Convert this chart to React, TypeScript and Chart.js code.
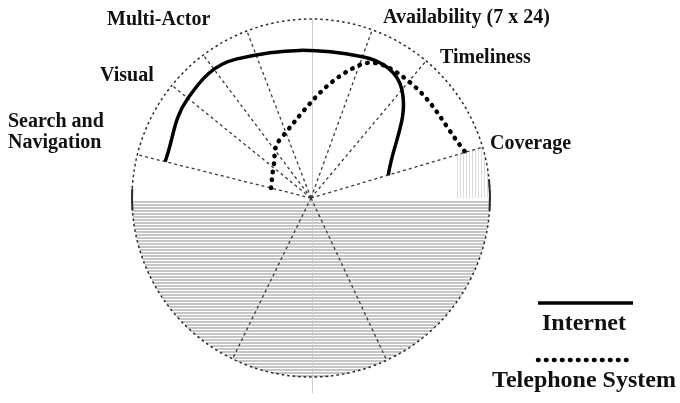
import { useEffect, useRef } from 'react';
import { Chart, registerables } from 'chart.js';

Chart.register(...registerables);

// ---- data ----
const AXIS_LABELS = ['Search and\nNavigation', 'Visual', 'Multi-Actor', 'Availability (7 x 24)', 'Timeliness', 'Coverage'];
// angular placement of each criterion (degrees, counter-clockwise from east)
const AXIS_ANGLES = [166, 141, 118, 70, 50, 16.5];
const INTERNET = [0.84, 0.885, 0.88, 0.84, 0.79, 0.45];
const TELEPHONE = [0.23, 0.27, 0.37, 0.79, 0.85, 0.9];
const SERIES_NAMES = ['Internet', 'Telephone System'];

// ---- decoration / layout (not data) ----
const GRID_ANGLES_UPPER = [166, 141, 127, 111, 70, 50, 16.5];
const GRID_ANGLES_LOWER = [244, 295];
const W = 680;
const H = 403;
const CX = 311;
const CY = 198;
const R = 179;
// text anchor offsets relative to the centre, in px (left-aligned, alphabetic baseline)
const LABEL_OFFSETS: [number, number][] = [
  [-303, -71],
  [-211, -117],
  [-204, -173],
  [72, -175],
  [129, -135],
  [179, -49],
];

const toXY = (angleDeg: number, v: number) => {
  const a = (angleDeg * Math.PI) / 180;
  return { x: v * Math.cos(a), y: v * Math.sin(a) };
};

const FONT = '"Liberation Serif", "Times New Roman", serif';

const decorPlugin = {
  id: 'decor',
  beforeDatasetsDraw(chart: any) {
    const { ctx, scales } = chart;
    const xs = scales.x;
    const ys = scales.y;
    const cx = xs.getPixelForValue(0);
    const cy = ys.getPixelForValue(0);
    const r = xs.getPixelForValue(1) - cx;
    ctx.save();
    // faint vertical hatch in coverage sector
    ctx.save();
    ctx.beginPath();
    ctx.moveTo(cx, cy + 3);
    ctx.arc(cx, cy, r, 0, (-16.5 * Math.PI) / 180, true);
    ctx.closePath();
    ctx.clip();
    ctx.strokeStyle = '#dcdcdc';
    ctx.lineWidth = 1;
    for (let x = cx + 146; x < cx + r; x += 3) {
      ctx.beginPath();
      ctx.moveTo(x + 0.5, cy - 60);
      ctx.lineTo(x + 0.5, cy + 3);
      ctx.stroke();
    }
    ctx.restore();
    // horizontal hatch of lower half
    ctx.strokeStyle = '#b3b3b3';
    ctx.lineWidth = 1.5;
    for (let dy = 4; dy < r; dy += 3) {
      const w = Math.sqrt(r * r - dy * dy);
      ctx.beginPath();
      ctx.moveTo(cx - w, cy + dy);
      ctx.lineTo(cx + w, cy + dy);
      ctx.stroke();
    }
    // faint vertical line
    ctx.strokeStyle = '#cfcfcf';
    ctx.lineWidth = 1;
    ctx.beginPath();
    ctx.moveTo(cx + 1.5, cy - r);
    ctx.lineTo(cx + 1.5, cy + r + 16);
    ctx.stroke();
    // radial grid lines
    ctx.strokeStyle = '#3a3a3a';
    ctx.lineWidth = 1.3;
    ctx.setLineDash([3, 3]);
    [...GRID_ANGLES_UPPER, ...GRID_ANGLES_LOWER].forEach((a) => {
      const rad = (a * Math.PI) / 180;
      ctx.beginPath();
      ctx.moveTo(cx, cy);
      ctx.lineTo(cx + r * Math.cos(rad), cy - r * Math.sin(rad));
      ctx.stroke();
    });
    // circle outline
    ctx.strokeStyle = '#2a2a2a';
    ctx.lineWidth = 1.5;
    ctx.setLineDash([2.5, 3]);
    ctx.beginPath();
    ctx.arc(cx, cy, r, 0, Math.PI * 2);
    ctx.stroke();
    // solid portions of the rim near the horizontal
    ctx.setLineDash([]);
    ctx.lineWidth = 2;
    ctx.beginPath();
    ctx.arc(cx, cy, r, (-6 * Math.PI) / 180, (4 * Math.PI) / 180);
    ctx.stroke();
    ctx.beginPath();
    ctx.arc(cx, cy, r, (176 * Math.PI) / 180, (183 * Math.PI) / 180);
    ctx.stroke();
    ctx.restore();
  },
  afterDatasetsDraw(chart: any) {
    const { ctx, scales } = chart;
    const cx = scales.x.getPixelForValue(0);
    const cy = scales.y.getPixelForValue(0);
    ctx.save();
    ctx.fillStyle = '#111';
    ctx.textAlign = 'left';
    ctx.textBaseline = 'alphabetic';
    ctx.font = `bold 20px ${FONT}`;
    AXIS_LABELS.forEach((label, i) => {
      const [ox, oy] = LABEL_OFFSETS[i];
      label.split('\n').forEach((line, j) => {
        ctx.fillText(line, cx + ox, cy + oy + j * 21);
      });
    });
    // custom legend
    const legendX1 = 538;
    const legendX2 = 633;
    const rows = [303, 360];
    chart.data.datasets.forEach((ds: any, i: number) => {
      const y = rows[i];
      ctx.save();
      ctx.strokeStyle = ds.borderColor;
      ctx.lineWidth = ds.borderWidth;
      ctx.lineCap = ds.borderCapStyle || 'butt';
      ctx.setLineDash(ds.borderDash || []);
      ctx.beginPath();
      ctx.moveTo(legendX1, y);
      ctx.lineTo(legendX2, y);
      ctx.stroke();
      ctx.restore();
      ctx.font = `bold 24px ${FONT}`;
      ctx.textAlign = 'center';
      ctx.fillText(ds.label, 584, y + 27);
    });
    ctx.restore();
  },
};

export default function App() {
  const ref = useRef<HTMLCanvasElement | null>(null);
  useEffect(() => {
    document.body.style.margin = '0';
    const canvas = ref.current;
    if (!canvas) return;
    const chart = new Chart(canvas, {
      type: 'scatter',
      data: {
        datasets: [
          {
            label: SERIES_NAMES[0],
            data: AXIS_ANGLES.map((a, i) => toXY(a, INTERNET[i])),
            showLine: true,
            borderColor: '#000',
            borderWidth: 3.5,
            tension: 0.4,
            pointRadius: 0,
            fill: false,
          },
          {
            label: SERIES_NAMES[1],
            data: AXIS_ANGLES.map((a, i) => toXY(a, TELEPHONE[i])),
            showLine: true,
            borderColor: '#000',
            borderWidth: 4.5,
            borderDash: [0.5, 7.5],
            borderCapStyle: 'round',
            tension: 0.4,
            pointRadius: 0,
            fill: false,
          },
        ],
      },
      options: {
        animation: false,
        responsive: false,
        devicePixelRatio: 1,
        layout: { padding: 0 },
        scales: {
          x: { type: 'linear', display: false, min: -CX / R, max: (W - CX) / R },
          y: { type: 'linear', display: false, min: -(H - CY) / R, max: CY / R },
        },
        plugins: { legend: { display: false }, tooltip: { enabled: false } },
      },
      plugins: [decorPlugin],
    } as any);
    return () => chart.destroy();
  }, []);
  return (
    <div style={{ position: 'fixed', left: 0, top: 0, width: W, height: H, background: '#fff' }}>
      <canvas ref={ref} width={W} height={H} style={{ display: 'block' }} />
    </div>
  );
}
